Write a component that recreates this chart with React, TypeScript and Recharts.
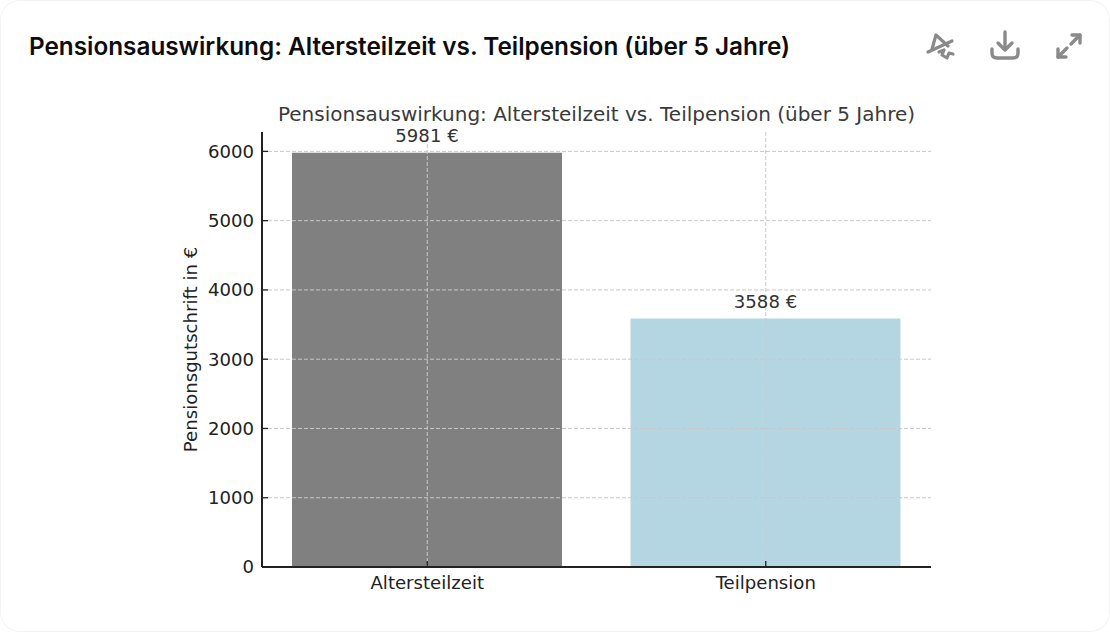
import React from 'react';
import { BarChart, Bar, XAxis, YAxis, CartesianGrid, Cell, LabelList } from 'recharts';

const categories = ['Altersteilzeit', 'Teilpension'];
const values = [5981, 3588];
const barColors = ['#808080', '#b4d6e3'];
const yTicks = [0, 1000, 2000, 3000, 4000, 5000, 6000];
const heading = 'Pensionsauswirkung: Altersteilzeit vs. Teilpension (über 5 Jahre)';

const data = categories.map((name, i) => ({ name, value: values[i] }));

const mono = 'DejaVu Sans, sans-serif';

const App: React.FC = () => {
  return (
    <div style={{ position: 'absolute', left: 0, top: 0, width: 1110, height: 632, background: '#fff', overflow: 'hidden' }}>
      <div style={{ position: 'absolute', inset: 0, border: '1px solid #f2f2f2', borderRadius: 20, boxSizing: 'border-box' }} />
      <div style={{ position: 'absolute', left: 29, top: 31, fontFamily: 'Inter, sans-serif', fontWeight: 600, fontSize: 24.3, lineHeight: '30px', color: '#0d0d0d', whiteSpace: 'nowrap' }}>
        {heading}
      </div>

      <svg style={{ position: 'absolute', left: 925, top: 28 }} width="32" height="34" viewBox="0 0 32 34" fill="none" stroke="#8a8a8a" strokeWidth="3.2" strokeLinecap="round" strokeLinejoin="round">
        <path d="M7 21 L11 7 L23 18" />
        <path d="M3 24 L27 13" />
        <path d="M14 24 L19 22 L17 27 L22 30 L24 25 L28 26" />
      </svg>
      <svg style={{ position: 'absolute', left: 989, top: 28 }} width="32" height="34" viewBox="0 0 32 34" fill="none" stroke="#8a8a8a" strokeWidth="3.4" strokeLinecap="round" strokeLinejoin="round">
        <path d="M16 4 V21" />
        <path d="M9 15 L16 22 L23 15" />
        <path d="M3 21 V25 Q3 30 8 30 H24 Q29 30 29 25 V21" />
      </svg>
      <svg style={{ position: 'absolute', left: 1053, top: 28 }} width="32" height="34" viewBox="0 0 32 34" fill="none" stroke="#8a8a8a" strokeWidth="3.4" strokeLinecap="round" strokeLinejoin="round">
        <path d="M19 7 H27 V15" />
        <path d="M27 7 L18 16" />
        <path d="M13 29 H5 V21" />
        <path d="M5 29 L14 20" />
      </svg>

      <div style={{ position: 'absolute', left: 0, top: 0 }}>
        <BarChart
          width={1110}
          height={632}
          data={data}
          margin={{ top: 132, right: 179, bottom: 35, left: 182 }}
          barCategoryGap="10%"
        >
          <text x={596.5} y={121} textAnchor="middle" fontFamily={mono} fontSize={20} fill="#3a3a3a">
            {heading}
          </text>
          <Bar dataKey="value" barSize={270} isAnimationActive={false}>
            {data.map((d, i) => (
              <Cell key={d.name} fill={barColors[i]} />
            ))}
            <LabelList
              dataKey="value"
              position="top"
              offset={10.5}
              formatter={(v: any) => `${v} €`}
              style={{ fontFamily: mono, fontSize: 18.1, fill: '#333' }}
            />
          </Bar>
          <CartesianGrid stroke="#c8c8c8" strokeDasharray="4 2" syncWithTicks horizontalValues={yTicks} zIndex={500} />
          <XAxis
            dataKey="name"
            height={30}
            padding={{ left: -4, right: -4 }}
            axisLine={{ stroke: '#222', strokeWidth: 2 }}
            tickLine={{ stroke: '#222', strokeWidth: 1.3 }}
            tickSize={-6}
            tickMargin={15}
            tick={{ fontFamily: mono, fontSize: 18.1, fill: '#222' }}
          />
          <YAxis
            domain={[0, 6280]}
            ticks={yTicks}
            width={80}
            allowDataOverflow
            axisLine={{ stroke: '#222', strokeWidth: 2 }}
            tickLine={{ stroke: '#222', strokeWidth: 1.3 }}
            tickSize={-6}
            tickMargin={14}
            tick={{ fontFamily: mono, fontSize: 18.1, fill: '#222' }}
            label={{ value: 'Pensionsgutschrift in €', angle: -90, position: 'insideLeft', offset: 9, style: { fontFamily: mono, fontSize: 18.1, fill: '#222', textAnchor: 'middle' } }}
          />
        </BarChart>
      </div>
    </div>
  );
};

export default App;
